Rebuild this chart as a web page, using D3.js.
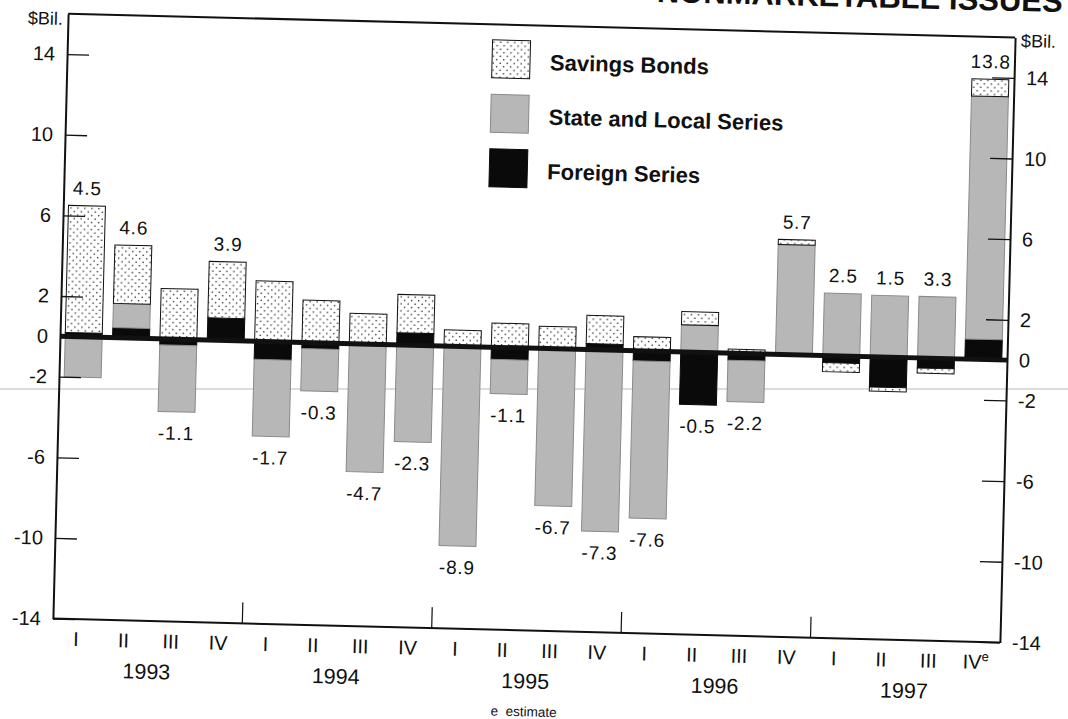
<!DOCTYPE html>
<html>
<head>
<meta charset="utf-8">
<script src="https://cdn.jsdelivr.net/npm/d3@7"></script>
<style>
  html, body { margin: 0; padding: 0; background: #fff; }
  svg { display: block; }
  text { font-family: "Liberation Sans", Arial, Helvetica, sans-serif; fill: #111; }
</style>
</head>
<body>
<svg id="chart" width="1068" height="719"></svg>
<script>
// ---------------- data ----------------
const quarterLabels = ["I","II","III","IV","I","II","III","IV","I","II","III","IV","I","II","III","IV","I","II","III","IV"];
const quarterNotes  = ["","","","","","","","","","","","","","","","","","","","e"];
const years = ["1993","1994","1995","1996","1997"];
const seriesNames = ["Savings Bonds","State and Local Series","Foreign Series"];

const savingsBonds = [6.3, 2.9, 2.5, 2.8, 3.0, 2.1, 1.5, 1.9, 0.8, 1.2, 1.1, 1.4, 0.7, 0.65, 0.2, 0.25, -0.45, -0.2, -0.25, 0.85];
const stateLocal   = [-2.0, 1.2, -3.3, 0, -3.8, -2.1, -6.25, -4.8, -9.9, -1.7, -7.8, -9.0, -7.8, 1.35, -2.05, 5.45, 3.1, 3.05, 3.05, 12.05];
const foreign      = [0.2, 0.5, -0.3, 1.1, -0.9, -0.3, -0.1, 0.6, 0, -0.6, 0, 0.3, -0.5, -2.6, -0.35, 0, -0.35, -1.5, -0.5, 1.0];
const netLabels    = ["4.5","4.6","-1.1","3.9","-1.7","-0.3","-4.7","-2.3","-8.9","-1.1","-6.7","-7.3","-7.6","-0.5","-2.2","5.7","2.5","1.5","3.3","13.8"];

const yTicks = [14, 10, 6, 2, 0, -2, -6, -10, -14];
const titleText = "NONMARKETABLE ISSUES";
const unitLabel = "$Bil.";
const footnote = "e  estimate";

// ---------------- layout ----------------
const svg = d3.select("#chart");
const pL = 60, pR = 1007.3, pT = 13.6, pB = 618.7;
const tilt = 1.44;            // the scanned page is slightly rotated
const zeroY = 336.3;

// scan artefact line (not rotated)
svg.append("line").attr("x1", 0).attr("x2", 1068).attr("y1", 389).attr("y2", 389)
  .attr("stroke", "#dcdcdc").attr("stroke-width", 2);

const defs = svg.append("defs");
const pat = defs.append("pattern").attr("id", "dots").attr("patternUnits", "userSpaceOnUse")
  .attr("width", 7).attr("height", 7);
pat.append("rect").attr("width", 7).attr("height", 7).attr("fill", "#fff");
pat.append("circle").attr("cx", 1.2).attr("cy", 1.2).attr("r", 0.8).attr("fill", "#222");
pat.append("circle").attr("cx", 4.7).attr("cy", 4.7).attr("r", 0.8).attr("fill", "#222");

const g = svg.append("g").attr("transform", `rotate(${tilt},${pL},${zeroY})`);

const y = d3.scaleLinear().domain([-14, 16]).range([pB, pT]);
const x = d3.scaleBand().domain(d3.range(quarterLabels.length)).range([pL, pR])
  .paddingInner(0.22).paddingOuter(0.11);

const rows = quarterLabels.map((q, i) => ({
  i, foreign: foreign[i], stateLocal: stateLocal[i], savings: savingsBonds[i]
}));
const keys = ["foreign", "stateLocal", "savings"];
const stacked = d3.stack().keys(keys).offset(d3.stackOffsetDiverging)(rows);

const styles = {
  savings:    { fill: "url(#dots)", stroke: "#111", sw: 1 },
  stateLocal: { fill: "#b7b7b7", stroke: "#8a8a8a", sw: 1 },
  foreign:    { fill: "#0a0a0a", stroke: "#0a0a0a", sw: 1 }
};

// title (mostly outside the top edge, as on the scanned page)
g.append("text").attr("x", 1054).attr("y", -13).attr("text-anchor", "end")
  .attr("font-size", 31).attr("font-weight", "bold").text(titleText);

// bars
stacked.forEach(layer => {
  const st = styles[layer.key];
  g.append("g").selectAll("rect").data(layer.filter(d => Math.abs(d[1] - d[0]) > 1e-9)).join("rect")
    .attr("x", d => x(d.data.i))
    .attr("width", x.bandwidth())
    .attr("y", d => y(Math.max(d[0], d[1])))
    .attr("height", d => Math.abs(y(d[0]) - y(d[1])))
    .attr("fill", st.fill).attr("stroke", st.stroke).attr("stroke-width", st.sw);
});

// net labels
const ext = rows.map(r => {
  let pos = 0, neg = 0;
  keys.forEach(k => { if (r[k] > 0) pos += r[k]; else neg += r[k]; });
  return { pos, neg };
});
g.append("g").selectAll("text").data(netLabels).join("text")
  .attr("x", (d, i) => x(i) + x.bandwidth() / 2)
  .attr("y", (d, i) => +d >= 0 ? y(ext[i].pos) - 11 : y(ext[i].neg) + 28)
  .attr("text-anchor", "middle").attr("font-size", 19).attr("letter-spacing", 0.8)
  .text(d => d);

// frame
const frame = g.append("g").attr("stroke", "#111").attr("fill", "none");
frame.append("line").attr("x1", pL).attr("x2", pR).attr("y1", pT).attr("y2", pT).attr("stroke-width", 2);
frame.append("line").attr("x1", pL).attr("x2", pR).attr("y1", pB).attr("y2", pB).attr("stroke-width", 2);

// axes
const fmt = d => String(d);
const axL = g.append("g").attr("transform", `translate(${pL},0)`)
  .call(d3.axisLeft(y).tickValues(yTicks).tickFormat(fmt).tickSize(-22).tickSizeOuter(0).tickPadding(12));
const axR = g.append("g").attr("transform", `translate(${pR},0)`)
  .call(d3.axisRight(y).tickValues(yTicks).tickFormat(fmt).tickSize(-22).tickSizeOuter(0).tickPadding(12));
[axL, axR].forEach(ax => {
  ax.select(".domain").attr("stroke", "#111").attr("stroke-width", 2);
  ax.selectAll(".tick line").attr("stroke", "#111").attr("stroke-width", 1.3);
  ax.selectAll(".tick text").attr("font-size", 20).attr("font-family", "Liberation Sans, Arial, sans-serif").attr("fill", "#111");
  ax.selectAll(".tick").filter(d => d === 0).select("line").attr("opacity", 0);
});

// zero line
g.append("line").attr("x1", pL).attr("x2", pR).attr("y1", y(0)).attr("y2", y(0))
  .attr("stroke", "#111").attr("stroke-width", 5);

// year separators on bottom axis
const step = x.step();
const sepX = i => x((i + 1) * 4) - x.paddingInner() * step / 2;
g.append("g").selectAll("line").data(years.slice(1)).join("line")
  .attr("x1", (d, i) => sepX(i)).attr("x2", (d, i) => sepX(i))
  .attr("y1", pB).attr("y2", pB - 21)
  .attr("stroke", "#111").attr("stroke-width", 1.2);

// quarter labels
const ql = g.append("g").selectAll("text").data(quarterLabels).join("text")
  .attr("x", (d, i) => x(i) + x.bandwidth() / 2)
  .attr("y", pB + 27)
  .attr("text-anchor", "middle").attr("font-size", 20);
ql.append("tspan").text(d => d);
ql.filter((d, i) => quarterNotes[i] !== "").append("tspan")
  .attr("font-size", 13).attr("dy", -8).text(quarterNotes[quarterNotes.length - 1]);

// year labels
g.append("g").selectAll("text").data(years).join("text")
  .attr("x", (d, i) => (x(i * 4) + x(i * 4 + 3) + x.bandwidth()) / 2)
  .attr("y", pB + 58)
  .attr("text-anchor", "middle").attr("font-size", 21.5).text(d => d);

// footnote
g.append("text").attr("x", 533).attr("y", 704.5).attr("text-anchor", "middle")
  .attr("font-size", 13.5).style("white-space", "pre").text(footnote);

// unit labels
g.append("text").attr("x", 55).attr("y", 25).attr("text-anchor", "end").attr("font-size", 18).text(unitLabel);
g.append("text").attr("x", pR + 6).attr("y", 23).attr("text-anchor", "start").attr("font-size", 18).text(unitLabel);

// legend
const legendFills = [styles.savings, styles.stateLocal, styles.foreign];
const lg = g.append("g").selectAll("g").data(seriesNames).join("g")
  .attr("transform", (d, i) => `translate(485,${58 + i * 54.5})`);
lg.append("rect").attr("x", 0).attr("y", -29).attr("width", 38).attr("height", 38)
  .attr("fill", (d, i) => legendFills[i].fill)
  .attr("stroke", (d, i) => legendFills[i].stroke).attr("stroke-width", 1);
lg.append("text").attr("x", 58).attr("y", 0).attr("font-size", 22).attr("font-weight", "bold").text(d => d);
</script>
</body>
</html>
